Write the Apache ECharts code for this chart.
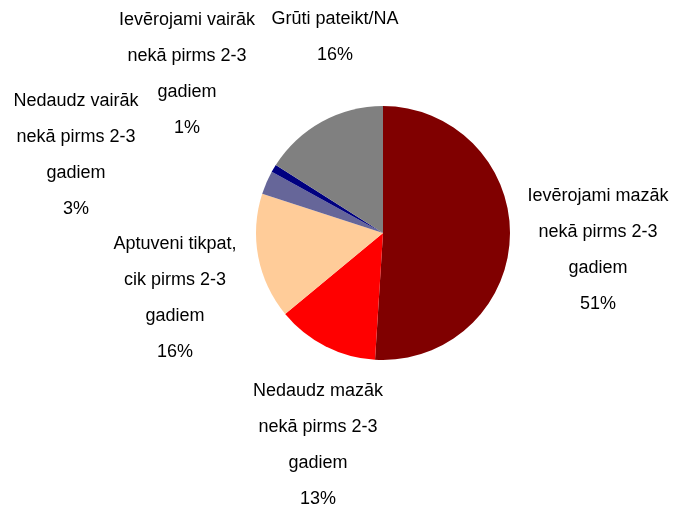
<!DOCTYPE html>
<html>
<head>
<meta charset="utf-8">
<script src="https://cdn.jsdelivr.net/npm/echarts@6/dist/echarts.min.js"></script>
<style>
html, body { margin: 0; padding: 0; background: #fff; }
#main { width: 686px; height: 511px; }
</style>
</head>
<body>
<div id="main"></div>
<script>
// 分类名称
var categories = [
	'Ievērojami mazāk\nnekā pirms 2-3\ngadiem',
	'Nedaudz mazāk\nnekā pirms 2-3\ngadiem',
	'Aptuveni tikpat,\ncik pirms 2-3\ngadiem',
	'Nedaudz vairāk\nnekā pirms 2-3\ngadiem',
	'Ievērojami vairāk\nnekā pirms 2-3\ngadiem',
	'Grūti pateikt/NA'
];
// 百分比
var values = [51, 13, 16, 3, 1, 16];
// 颜色
var colors = ['#800000', '#FF0000', '#FFCC99', '#666699', '#000080', '#808080'];

// 标签位置 (中心点)
var labelPos = [
	[598, 250],
	[318, 445],
	[175, 298],
	[76, 155],
	[187, 74],
	[335, 37]
];

var myChart = echarts.init(document.getElementById('main'));
var pieData = [];
for (var i = 0; i < categories.length; i++) {
	pieData.push({ name: categories[i], value: values[i], itemStyle: { color: colors[i] } });
}
var option = {
	animation: false,
	series: [
		{
			type: 'pie',
			center: [383, 233],
			radius: 127,
			startAngle: 90,
			clockwise: true,
			data: pieData,
			itemStyle: { borderWidth: 0 },
			label: {
				show: true,
				formatter: '{b}\n{c}%',
				fontFamily: 'Liberation Sans, Arial, sans-serif',
				fontSize: 18,
				lineHeight: 36,
				color: '#000',
				align: 'center',
				overflow: 'none'
			},
			labelLine: { show: false },
			labelLayout: function (params) {
				var p = labelPos[params.dataIndex];
				return { x: p[0], y: p[1], align: 'center', verticalAlign: 'middle' };
			}
		}
	]
};
myChart.setOption(option);
</script>
</body>
</html>
